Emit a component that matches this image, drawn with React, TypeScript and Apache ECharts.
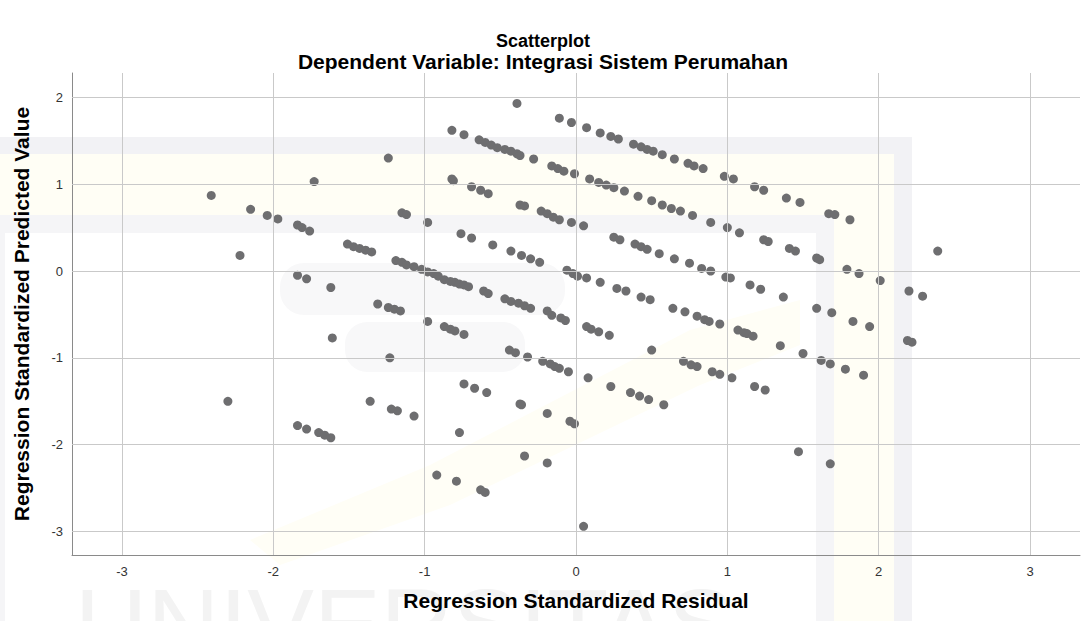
import React, { useEffect, useRef } from "react";
import * as echarts from "echarts";

type Pt = [number, number];

// [Regression Standardized Residual, Regression Standardized Predicted Value]
const band1: Pt[] = [
  [-0.39, 1.93], [-0.11, 1.76], [-0.03, 1.71], [0.07, 1.65], [0.16, 1.59], [0.23, 1.55], [0.28, 1.52],
  [0.38, 1.46], [0.43, 1.43], [0.47, 1.4], [0.51, 1.38], [0.57, 1.34], [0.65, 1.29], [0.74, 1.24],
  [0.78, 1.21], [0.84, 1.18], [0.98, 1.09], [1.04, 1.06], [1.18, 0.97], [1.24, 0.93], [1.39, 0.84],
  [1.48, 0.79], [1.67, 0.66], [1.71, 0.65], [1.81, 0.59],
];
const band2: Pt[] = [
  [-0.82, 1.62], [-0.74, 1.57], [-0.64, 1.51], [-0.6, 1.48], [-0.56, 1.45], [-0.52, 1.42], [-0.47, 1.4],
  [-0.43, 1.38], [-0.39, 1.35], [-0.37, 1.33], [-0.28, 1.29], [-0.16, 1.21], [-0.12, 1.18], [-0.08, 1.15],
  [-0.01, 1.12], [0.09, 1.06], [0.15, 1.02], [0.2, 0.99], [0.25, 0.96], [0.32, 0.92], [0.41, 0.86],
  [0.5, 0.81], [0.57, 0.76], [0.63, 0.72], [0.69, 0.69], [0.77, 0.64], [0.89, 0.56], [1.0, 0.5],
  [1.08, 0.44], [1.24, 0.36], [1.27, 0.34], [1.41, 0.26], [1.45, 0.23], [1.59, 0.15], [1.61, 0.13],
  [1.79, 0.02], [1.87, -0.03], [2.01, -0.11], [2.2, -0.23], [2.29, -0.29],
];
const band3: Pt[] = [
  [-0.82, 1.06], [-0.81, 1.04], [-0.69, 0.97], [-0.63, 0.93], [-0.58, 0.89], [-0.37, 0.76], [-0.34, 0.75],
  [-0.23, 0.69], [-0.19, 0.66], [-0.15, 0.62], [-0.11, 0.59], [-0.03, 0.56], [0.05, 0.52], [0.25, 0.39],
  [0.29, 0.36], [0.39, 0.31], [0.43, 0.28], [0.47, 0.25], [0.55, 0.2], [0.65, 0.14], [0.75, 0.09],
  [0.83, 0.03], [0.89, 0.0], [0.99, -0.07], [1.02, -0.08], [1.15, -0.16], [1.22, -0.21], [1.37, -0.3],
  [1.59, -0.43], [1.69, -0.48], [1.83, -0.58], [1.94, -0.64],
];
const band4: Pt[] = [
  [-2.41, 0.87], [-2.15, 0.71], [-2.04, 0.64], [-1.97, 0.6], [-1.84, 0.53], [-1.81, 0.5], [-1.76, 0.46],
  [-1.15, 0.67], [-1.12, 0.65], [-0.98, 0.56], [-0.76, 0.43], [-0.69, 0.38], [-0.55, 0.3], [-0.43, 0.23],
  [-0.36, 0.18], [-0.3, 0.14], [-0.24, 0.1], [-0.06, 0.01], [-0.02, -0.03], [0.01, -0.06], [0.07, -0.08],
  [0.16, -0.13], [0.27, -0.2], [0.33, -0.23], [0.43, -0.3], [0.49, -0.33], [0.64, -0.43], [0.72, -0.47],
  [0.8, -0.52], [0.85, -0.56], [0.88, -0.58], [0.95, -0.61], [1.07, -0.68], [1.11, -0.71], [1.13, -0.72],
  [1.17, -0.75], [1.35, -0.86], [1.5, -0.95], [1.62, -1.03], [1.68, -1.07], [1.78, -1.13], [1.9, -1.2],
];
const band5: Pt[] = [
  [-2.22, 0.18], [-1.51, 0.31], [-1.47, 0.28], [-1.43, 0.26], [-1.39, 0.24], [-1.35, 0.22], [-1.19, 0.12],
  [-1.15, 0.1], [-1.12, 0.07], [-1.07, 0.05], [-1.02, 0.02], [-0.98, -0.01], [-0.94, -0.03], [-0.91, -0.06],
  [-0.87, -0.1], [-0.83, -0.12], [-0.8, -0.13], [-0.77, -0.15], [-0.74, -0.16], [-0.71, -0.18], [-0.61, -0.23],
  [-0.58, -0.26], [-0.47, -0.32], [-0.43, -0.35], [-0.38, -0.37], [-0.34, -0.4], [-0.3, -0.43], [-0.19, -0.46],
  [-0.16, -0.51], [-0.1, -0.54], [-0.07, -0.57], [0.07, -0.64], [0.1, -0.67], [0.15, -0.7], [0.22, -0.74],
  [0.5, -0.91], [0.71, -1.04], [0.76, -1.08], [0.8, -1.1], [0.9, -1.16], [0.95, -1.19], [1.03, -1.23],
  [1.18, -1.33], [1.25, -1.37],
];
const band6: Pt[] = [
  [-1.84, -0.05], [-1.78, -0.09], [-1.62, -0.19], [-1.31, -0.38], [-1.24, -0.42], [-1.2, -0.44], [-1.16, -0.46],
  [-0.98, -0.58], [-0.87, -0.64], [-0.83, -0.67], [-0.8, -0.69], [-0.74, -0.73], [-0.44, -0.91], [-0.4, -0.94],
  [-0.32, -0.99], [-0.22, -1.04], [-0.17, -1.07], [-0.14, -1.1], [-0.11, -1.12], [-0.05, -1.16], [0.08, -1.23],
  [0.23, -1.33], [0.36, -1.4], [0.42, -1.44], [0.48, -1.48], [0.58, -1.54],
];
const band7: Pt[] = [
  [-1.61, -0.77], [-1.23, -1.0], [-0.74, -1.3], [-0.67, -1.35], [-0.59, -1.4], [-0.37, -1.53], [-0.36, -1.54],
  [-0.19, -1.64], [-0.04, -1.73], [-0.01, -1.76],
];
const band8: Pt[] = [
  [-2.3, -1.5], [-1.36, -1.5], [-1.22, -1.59], [-1.18, -1.61], [-1.07, -1.67], [-1.84, -1.78], [-1.78, -1.82],
  [-1.7, -1.86], [-1.66, -1.89], [-1.62, -1.92], [-0.77, -1.86], [-0.92, -2.35], [-0.79, -2.42], [-0.63, -2.52],
  [-0.6, -2.55], [-0.34, -2.13], [-0.19, -2.21], [0.05, -2.94],
];
const outliers: Pt[] = [
  [-1.73, 1.03], [-1.24, 1.3], [2.39, 0.23], [2.19, -0.8], [2.22, -0.82], [1.47, -2.08], [1.68, -2.22],
];

const xTicks = [-3, -2, -1, 0, 1, 2, 3];
const yTicks = [2, 1, 0, -1, -2, -3];

const titleText = "Scatterplot";
const subtitleText = "Dependent Variable: Integrasi Sistem Perumahan";
const xName = "Regression Standardized Residual";
const yName = "Regression Standardized Predicted Value";
const watermarkText = "UNIVERSITAS";

const FONT = "'Liberation Sans', Arial, Helvetica, sans-serif";

function intLabel(v: number): string {
  return Math.abs(v - Math.round(v)) < 1e-6 ? String(Math.round(v)) : "";
}

export default function App() {
  const ref = useRef<HTMLDivElement>(null);

  useEffect(() => {
    if (!ref.current) return;
    const chart = echarts.init(ref.current, null, { renderer: "svg" });
    const points = [
      ...band1, ...band2, ...band3, ...band4, ...band5, ...band6, ...band7, ...band8, ...outliers,
    ];

    const wm = (fill: string) => ({ fill });
    chart.setOption({
      animation: false,
      backgroundColor: "#ffffff",
      title: [
        {
          text: titleText,
          left: "center",
          top: 27,
          textStyle: { fontFamily: FONT, fontSize: 18, fontWeight: "bold", color: "#000" },
        },
        {
          text: subtitleText,
          left: "center",
          top: 46,
          textStyle: { fontFamily: FONT, fontSize: 21, fontWeight: "bold", color: "#000" },
        },
      ],
      graphic: [
        { type: "rect", z: 0, silent: true, shape: { x: -10, y: 137, width: 922, height: 520 }, style: wm("#f2f2f5") },
        { type: "rect", z: 0, silent: true, shape: { x: -10, y: 154, width: 904, height: 520 }, style: wm("#fffef5") },
        { type: "rect", z: 0, silent: true, shape: { x: -10, y: 215, width: 844, height: 520 }, style: wm("#f5f5f7") },
        { type: "rect", z: 0, silent: true, shape: { x: 5, y: 233, width: 811, height: 520 }, style: wm("#ffffff") },
        { type: "rect", z: 0, silent: true, shape: { x: 280, y: 263, width: 285, height: 52, r: 24 }, style: wm("#f8f8f9") },
        { type: "rect", z: 0, silent: true, shape: { x: 345, y: 322, width: 180, height: 50, r: 22 }, style: wm("#f8f8f9") },
        {
          type: "polygon",
          z: 0,
          silent: true,
          shape: { points: [[250, 540], [430, 465], [690, 330], [800, 300], [800, 345], [700, 385], [450, 505], [280, 565]] },
          style: wm("#fffef6"),
        },
        {
          type: "text",
          z: 0,
          silent: true,
          x: 75,
          y: 574,
          style: { text: watermarkText, fontFamily: FONT, fontSize: 100, fill: "#f3f3f3" },
        },
      ],
      grid: { left: 72, right: 6, top: 73, bottom: 66, containLabel: false },
      xAxis: {
        type: "value",
        min: -3.33,
        max: 3.33,
        splitLine: { show: false },
        axisTick: { show: false },
        axisLine: { show: true, onZero: false, lineStyle: { color: "#8a8a8a", width: 1 } },
        axisLabel: { formatter: intLabel, margin: 10, fontSize: 13, color: "#333", fontFamily: FONT },
        name: xName,
        nameLocation: "middle",
        nameGap: 35,
        nameTextStyle: { fontFamily: FONT, fontSize: 21, fontWeight: "bold", color: "#000" },
      },
      yAxis: {
        type: "value",
        min: -3.27,
        max: 2.28,
        splitLine: { show: false },
        axisTick: { show: false },
        axisLine: { show: true, onZero: false, lineStyle: { color: "#8a8a8a", width: 1 } },
        axisLabel: { formatter: intLabel, margin: 9, fontSize: 13, color: "#333", fontFamily: FONT },
        name: yName,
        nameLocation: "middle",
        nameGap: 40,
        nameTextStyle: { fontFamily: FONT, fontSize: 21, fontWeight: "bold", color: "#000" },
      },
      series: [
        {
          type: "scatter",
          data: [],
          z: 1,
          silent: true,
          markLine: {
            silent: true,
            symbol: ["none", "none"],
            label: { show: false },
            lineStyle: { color: "#c9c9c9", width: 1, type: "solid" },
            emphasis: { disabled: true },
            data: [...xTicks.map((v) => ({ xAxis: v })), ...yTicks.map((v) => ({ yAxis: v }))],
          },
        },
        {
          type: "scatter",
          data: points,
          z: 3,
          symbol: "circle",
          symbolSize: 9,
          itemStyle: { color: "#6e6e70", opacity: 1 },
        },
      ],
    });
    return () => chart.dispose();
  }, []);

  return <div ref={ref} style={{ position: "fixed", left: 0, top: 0, width: 1086, height: 621 }} />;
}
